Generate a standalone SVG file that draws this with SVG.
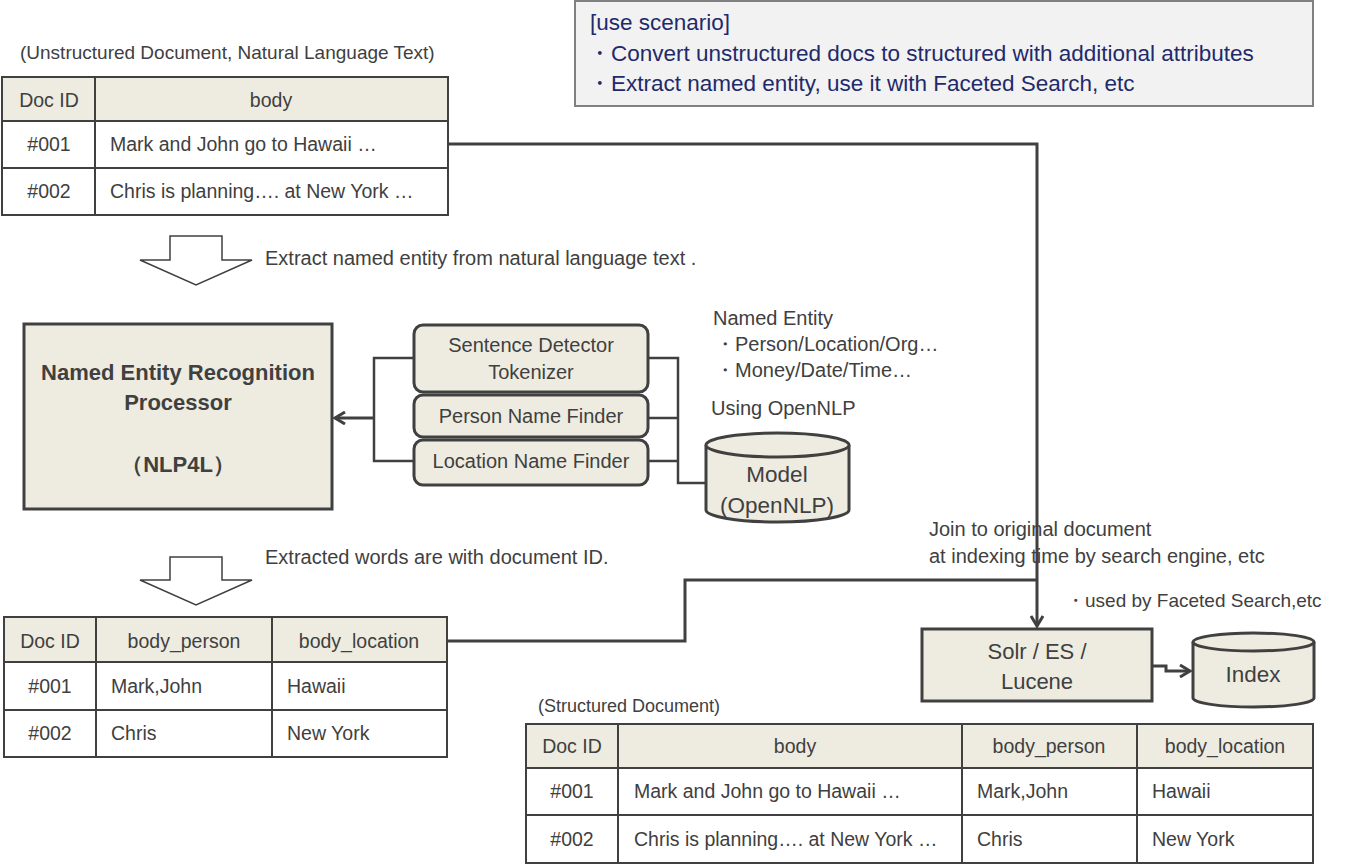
<svg xmlns="http://www.w3.org/2000/svg" width="1353" height="866" viewBox="0 0 1353 866">
<defs>
<style>
text{font-family:"Liberation Sans",Arial,sans-serif;fill:#404040;font-size:19.5px}
.c{text-anchor:middle}
.b{font-weight:bold}
.cell{fill:#ffffff;stroke:#404040;stroke-width:2}
.hdr{fill:#eeece1;stroke:#404040;stroke-width:2}
.box{fill:#eeece1;stroke:#404040;stroke-width:3}
.line{fill:none;stroke:#404040;stroke-width:3}
.sc{fill:#1f2a6b;font-size:22.5px}
.big{font-size:22px}
.n{font-size:20px}
</style>
<marker id="ah" markerWidth="14" markerHeight="14" refX="11" refY="7" orient="auto" markerUnits="userSpaceOnUse">
<path d="M1 1 L11 7 L1 13" fill="none" stroke="#404040" stroke-width="3"/>
</marker>
</defs>
<rect width="1353" height="866" fill="#ffffff"/>

<g id="scenario">
<rect x="575" y="1" width="738" height="105" fill="#f2f2f2" stroke="#808080" stroke-width="2"/>
<text x="590" y="30" class="sc">[use scenario]</text>
<text x="588" y="61" class="sc">・Convert unstructured docs to structured with additional attributes</text>
<text x="588" y="91" class="sc">・Extract named entity, use it with Faceted Search, etc</text>
</g>

<g id="table-unstructured">
<text x="20" y="59" style="font-size:19px">(Unstructured Document,  Natural Language Text)</text>
<rect x="2" y="77" width="446" height="44" class="hdr"/>
<rect x="2" y="121" width="446" height="47" class="cell"/>
<rect x="2" y="168" width="446" height="47" class="cell"/>
<line x1="95" y1="77" x2="95" y2="215" stroke="#404040" stroke-width="2"/>
<text x="49" y="107" class="c">Doc ID</text>
<text x="271" y="107" class="c">body</text>
<text x="49" y="151" class="c">#001</text>
<text x="110" y="151">Mark and John go to Hawaii …</text>
<text x="49" y="198" class="c">#002</text>
<text x="110" y="198">Chris  is planning…. at New York …</text>
</g>

<g id="arrow-extract">
<path d="M170 236 H222 V260 H252 L196 285 L140 260 H170 Z" fill="#ffffff" stroke="#404040" stroke-width="1.5"/>
<text x="265" y="265" class="n">Extract named entity from natural language text .</text>
</g>

<g id="ner-processor">
<rect x="24" y="324" width="308" height="185" class="box"/>
<text x="178" y="380" class="c b big">Named Entity Recognition</text>
<text x="178" y="410" class="c b big">Processor</text>
<text x="178" y="472" class="c b big">（NLP4L）</text>
</g>

<g id="sentence-detector">
<rect x="414" y="325" width="234" height="67" rx="9" class="box"/>
<text x="531" y="352" class="c n">Sentence Detector</text>
<text x="531" y="379" class="c n">Tokenizer</text>
</g>
<g id="person-finder">
<rect x="414" y="395" width="234" height="42" rx="9" class="box"/>
<text x="531" y="423" class="c n">Person Name Finder</text>
</g>
<g id="location-finder">
<rect x="414" y="440" width="234" height="45" rx="9" class="box"/>
<text x="531" y="468" class="c n">Location Name Finder</text>
</g>

<g id="model">
<path d="M706 445 V510 A71.5 12 0 0 0 849 510 V445" fill="#eeece1" stroke="#404040" stroke-width="3"/>
<ellipse cx="777.5" cy="445" rx="71.5" ry="12" fill="#eeece1" stroke="#404040" stroke-width="3"/>
<text x="777" y="482" class="c" style="font-size:22.5px">Model</text>
<text x="777" y="513" class="c" style="font-size:22.5px">(OpenNLP)</text>
</g>

<g id="notes">
<text x="713" y="325" class="n">Named Entity</text>
<text x="715" y="351" class="n">・Person/Location/Org…</text>
<text x="715" y="377" class="n">・Money/Date/Time…</text>
<text x="711" y="415" class="n">Using OpenNLP</text>
<text x="929" y="536" class="n">Join to original document</text>
<text x="929" y="563" class="n">at indexing time by search engine, etc</text>
<text x="1066" y="607" style="font-size:19px">・used by Faceted Search,etc</text>
</g>

<g id="arrow-extracted">
<path d="M170 557 H222 V580 H252 L196 605 L140 580 H170 Z" fill="#ffffff" stroke="#404040" stroke-width="1.5"/>
<text x="265" y="564" class="n">Extracted words  are with document ID.</text>
</g>

<g id="table-extracted">
<rect x="4" y="617" width="443" height="45" class="hdr"/>
<rect x="4" y="662" width="443" height="48" class="cell"/>
<rect x="4" y="710" width="443" height="47" class="cell"/>
<line x1="96" y1="617" x2="96" y2="757" stroke="#404040" stroke-width="2"/>
<line x1="272" y1="617" x2="272" y2="757" stroke="#404040" stroke-width="2"/>
<text x="50" y="648" class="c">Doc ID</text>
<text x="184" y="648" class="c">body_person</text>
<text x="359" y="648" class="c">body_location</text>
<text x="50" y="693" class="c">#001</text>
<text x="111" y="693">Mark,John</text>
<text x="287" y="693">Hawaii</text>
<text x="50" y="740" class="c">#002</text>
<text x="111" y="740">Chris</text>
<text x="287" y="740">New York</text>
</g>

<g id="solr">
<rect x="922" y="629" width="230" height="72" class="box"/>
<text x="1037" y="659" class="c big">Solr / ES /</text>
<text x="1037" y="689" class="c big">Lucene</text>
</g>

<g id="index">
<path d="M1193 642 V698 A60.5 9 0 0 0 1314 698 V642" fill="#eeece1" stroke="#404040" stroke-width="3"/>
<ellipse cx="1253.5" cy="642" rx="60.5" ry="9" fill="#eeece1" stroke="#404040" stroke-width="3"/>
<text x="1253" y="682" class="c" style="font-size:22.5px">Index</text>
</g>

<g id="table-structured">
<text x="538" y="712" style="font-size:18px">(Structured Document)</text>
<rect x="526" y="724" width="787" height="44" class="hdr"/>
<rect x="526" y="768" width="787" height="47" class="cell"/>
<rect x="526" y="815" width="787" height="48" class="cell"/>
<line x1="618" y1="724" x2="618" y2="863" stroke="#404040" stroke-width="2"/>
<line x1="962" y1="724" x2="962" y2="863" stroke="#404040" stroke-width="2"/>
<line x1="1137" y1="724" x2="1137" y2="863" stroke="#404040" stroke-width="2"/>
<text x="572" y="753" class="c">Doc ID</text>
<text x="795" y="753" class="c">body</text>
<text x="1049" y="753" class="c">body_person</text>
<text x="1225" y="753" class="c">body_location</text>
<text x="572" y="798" class="c">#001</text>
<text x="634" y="798">Mark and John go to Hawaii …</text>
<text x="977" y="798">Mark,John</text>
<text x="1152" y="798">Hawaii</text>
<text x="572" y="846" class="c">#002</text>
<text x="634" y="846">Chris  is planning…. at New York …</text>
<text x="977" y="846">Chris</text>
<text x="1152" y="846">New York</text>
</g>

<g id="connectors">
<path d="M374 418 H335" class="line" marker-end="url(#ah)"/>
<path d="M414 358 H374 V461 H414" class="line" style="stroke-width:2.5"/>
<path d="M648 358 H678 V483 H706" class="line" style="stroke-width:2.5"/>
<path d="M648 418 H678" class="line" style="stroke-width:2.5"/>
<path d="M648 461 H678" class="line" style="stroke-width:2.5"/>
<path d="M448 144 H1037 V626" class="line" marker-end="url(#ah)"/>
<path d="M448 641 H685 V580 H1037" class="line"/>
<path d="M1152 666 H1166 V671 H1190" class="line" marker-end="url(#ah)"/>
</g>
</svg>
